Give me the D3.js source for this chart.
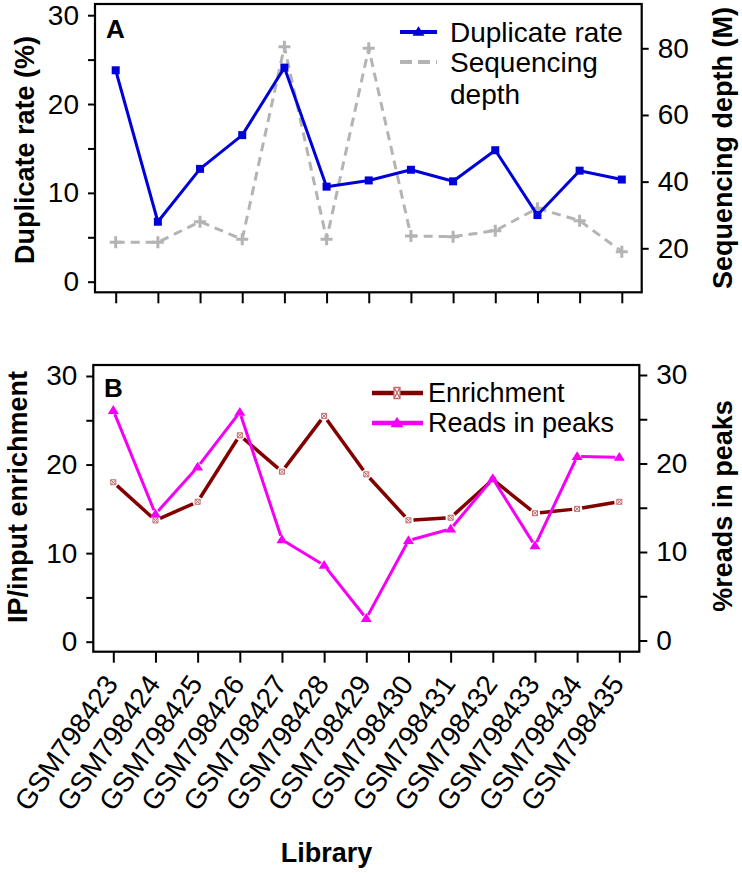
<!DOCTYPE html>
<html><head><meta charset="utf-8">
<script src="https://cdn.jsdelivr.net/npm/d3@7"></script>
<style>
html,body{margin:0;padding:0;background:#fff;}
svg{display:block;font-family:"Liberation Sans",Arial,sans-serif;}
</style></head>
<body>
<svg id="c" width="742" height="873"></svg>
<script>
// ---- data ----
const libraries = ["GSM798423","GSM798424","GSM798425","GSM798426","GSM798427","GSM798428","GSM798429","GSM798430","GSM798431","GSM798432","GSM798433","GSM798434","GSM798435"];
const duplicateRate = [23.8, 6.75, 12.7, 16.5, 24.1, 10.7, 11.4, 12.6, 11.3, 14.8, 7.5, 12.5, 11.5];
const sequencingDepth = [21.8, 21.8, 28.0, 22.7, 80.5, 22.7, 80.0, 23.7, 23.5, 25.3, 32.0, 28.3, 19.0];
const enrichment = [18.0, 13.7, 15.8, 23.3, 19.2, 25.5, 18.9, 13.7, 14.0, 18.3, 14.5, 15.0, 15.8];
const readsInPeaks = [26.0, 14.3, 19.6, 25.8, 11.4, 8.5, 2.5, 11.3, 12.6, 18.3, 10.7, 20.8, 20.7];
const leftTicksA = [0, 5, 10, 15, 20, 25, 30];
const leftLabelsA = [0, 10, 20, 30];
const rightTicksA = [20, 40, 60, 80];
const ticksB = [0, 5, 10, 15, 20, 25, 30];
const labelsB = [0, 10, 20, 30];

const svg = d3.select("#c");
const FS = 28;
const BLUE = "#0000d8", GRAY = "#b4b4b4", DRED = "#820000", MAG = "#f400f4", PINK = "#c06868";

// ---- Panel A ----
const boxA = {x0: 95, x1: 641.7, y0: 4, y1: 292.3};
const xA = d3.scalePoint().domain(libraries).range([115.7, 621.8]);
const yAL = d3.scaleLinear().domain([0, 30]).range([281.7, 15.2]);
const yAR = d3.scaleLinear().domain([20, 80]).range([248.3, 48.3]);

// ---- Panel B ----
const boxB = {x0: 93.3, x1: 639.3, y0: 365, y1: 651.7};
const xB = d3.scalePoint().domain(libraries).range([113.3, 619.3]);
const yBL = d3.scaleLinear().domain([0, 30]).range([641.7, 376]);
const yBR = d3.scaleLinear().domain([0, 30]).range([640.5, 375]);

function styleAxis(g, labelled) {
  g.select(".domain").remove();
  g.selectAll(".tick line").attr("stroke", "#000").attr("stroke-width", 2);
  g.selectAll(".tick text").attr("font-size", FS).attr("fill", "#000")
    .text(d => labelled.includes(d) ? d : "");
}

function box(b) {
  svg.append("rect").attr("x", b.x0).attr("y", b.y0).attr("width", b.x1 - b.x0).attr("height", b.y1 - b.y0)
    .attr("fill", "none").attr("stroke", "#000").attr("stroke-width", 2.2);
}

// axes A
svg.append("g").attr("transform", `translate(${boxA.x0},0)`)
  .call(d3.axisLeft(yAL).tickValues(leftTicksA).tickSize(7).tickPadding(9))
  .call(g => styleAxis(g, leftLabelsA));
svg.append("g").attr("transform", `translate(${boxA.x1},0)`)
  .call(d3.axisRight(yAR).tickValues(rightTicksA).tickSize(7).tickPadding(9))
  .call(g => styleAxis(g, rightTicksA));
svg.append("g").attr("transform", `translate(0,${boxA.y1})`)
  .call(d3.axisBottom(xA).tickSize(11).tickFormat(""))
  .call(g => { g.select(".domain").remove(); g.selectAll(".tick line").attr("stroke", "#000").attr("stroke-width", 2); });

// axes B
svg.append("g").attr("transform", `translate(${boxB.x0},0)`)
  .call(d3.axisLeft(yBL).tickValues(ticksB).tickSize(7).tickPadding(9))
  .call(g => styleAxis(g, labelsB));
svg.append("g").attr("transform", `translate(${boxB.x1},0)`)
  .call(d3.axisRight(yBR).tickValues(ticksB).tickSize(8).tickPadding(9))
  .call(g => styleAxis(g, labelsB));
svg.append("g").attr("transform", `translate(0,${boxB.y1})`)
  .call(d3.axisBottom(xB).tickSize(11).tickFormat(""))
  .call(g => { g.select(".domain").remove(); g.selectAll(".tick line").attr("stroke", "#000").attr("stroke-width", 2); });

// rotated category labels
svg.append("g").selectAll("text").data(libraries).join("text")
  .attr("transform", d => `translate(${xB(d) + 6},684) rotate(-55)`)
  .attr("text-anchor", "end").attr("font-size", FS).attr("fill", "#000")
  .text(d => d);

box(boxA);
box(boxB);

// ---- series helpers ----
function drawLine(xs, ys, vals, color, width, dash) {
  const pts = vals.map((v, i) => [xs(libraries[i]), ys(v)]);
  svg.append("path").attr("d", d3.line()(pts)).attr("fill", "none")
    .attr("stroke", color).attr("stroke-width", width)
    .attr("stroke-dasharray", dash || null).attr("stroke-linejoin", "round");
  return pts;
}
function drawGapLine(xs, ys, vals, color, width, gap) {
  const pts = vals.map((v, i) => [xs(libraries[i]), ys(v)]);
  const segs = [];
  for (let i = 0; i < pts.length - 1; i++) {
    const [ax, ay] = pts[i], [bx, by] = pts[i + 1];
    const L = Math.hypot(bx - ax, by - ay), ux = (bx - ax) / L, uy = (by - ay) / L;
    segs.push([[ax + ux * gap, ay + uy * gap], [bx - ux * gap, by - uy * gap]]);
  }
  svg.append("g").selectAll("path").data(segs).join("path")
    .attr("d", d => d3.line()(d)).attr("fill", "none")
    .attr("stroke", color).attr("stroke-width", width).attr("stroke-linecap", "butt");
  return pts;
}
function square(g, x, y, s, color) {
  g.append("rect").attr("x", x - s / 2).attr("y", y - s / 2).attr("width", s).attr("height", s).attr("fill", color);
}
function plus(g, x, y, s, color) {
  g.append("path").attr("d", `M${x - s / 2},${y}H${x + s / 2}M${x},${y - s / 2}V${y + s / 2}`)
    .attr("stroke", color).attr("stroke-width", 3).attr("fill", "none");
}
function tri(g, x, y, s, color) {
  const h = s * 0.8;
  g.append("path").attr("d", `M${x},${y - h * 0.6}L${x + s / 2},${y + h * 0.4}L${x - s / 2},${y + h * 0.4}Z`).attr("fill", color);
}
function boxX(g, x, y, w, h, color, sw) {
  g.append("path").attr("d", `M${x - w / 2},${y - h / 2}H${x + w / 2}V${y + h / 2}H${x - w / 2}Z M${x - w / 2},${y - h / 2}L${x + w / 2},${y + h / 2}M${x + w / 2},${y - h / 2}L${x - w / 2},${y + h / 2}`)
    .attr("fill", "#fff").attr("stroke", color).attr("stroke-width", sw);
}

// ---- Panel A series ----
const ptsDepth = drawLine(xA, yAR, sequencingDepth, GRAY, 3, "9,6");
const gD = svg.append("g");
ptsDepth.forEach(p => plus(gD, p[0], p[1], 12, GRAY));
const ptsDup = drawLine(xA, yAL, duplicateRate, BLUE, 3);
const gU = svg.append("g");
ptsDup.forEach(p => square(gU, p[0], p[1], 8, BLUE));

// ---- Panel B series ----
const ptsEnr = drawGapLine(xB, yBL, enrichment, DRED, 3.5, 5);
const gE = svg.append("g");
ptsEnr.forEach(p => boxX(gE, p[0], p[1], 5, 5, PINK, 1));
const ptsRip = drawGapLine(xB, yBR, readsInPeaks, MAG, 3, 4);
const gR = svg.append("g");
ptsRip.forEach(p => tri(gR, p[0], p[1], 11, MAG));

// ---- Panel labels ----
svg.append("text").attr("x", 106).attr("y", 38).attr("font-size", 26).attr("font-weight", "bold").text("A");
svg.append("text").attr("x", 104).attr("y", 397).attr("font-size", 26).attr("font-weight", "bold").text("B");

// ---- Legends ----
const lg = svg.append("g");
lg.append("line").attr("x1", 400).attr("x2", 437).attr("y1", 32).attr("y2", 32).attr("stroke", BLUE).attr("stroke-width", 4);
tri(lg, 418.5, 32, 12, BLUE);
lg.append("text").attr("x", 450).attr("y", 32).attr("dy", "0.35em").attr("font-size", FS).text("Duplicate rate");
lg.append("line").attr("x1", 400).attr("x2", 437).attr("y1", 62).attr("y2", 62).attr("stroke", GRAY).attr("stroke-width", 4).attr("stroke-dasharray", "12,6");
lg.append("text").attr("x", 450).attr("y", 62).attr("dy", "0.35em").attr("font-size", FS).text("Sequencing");
lg.append("text").attr("x", 450).attr("y", 94).attr("dy", "0.35em").attr("font-size", FS).text("depth");

lg.append("line").attr("x1", 372).attr("x2", 423).attr("y1", 393).attr("y2", 393).attr("stroke", DRED).attr("stroke-width", 4.5);
boxX(lg, 397, 393, 6, 11, PINK, 1.3);
lg.append("text").attr("x", 428).attr("y", 393).attr("dy", "0.35em").attr("font-size", 27).text("Enrichment");
lg.append("line").attr("x1", 372).attr("x2", 423).attr("y1", 423).attr("y2", 423).attr("stroke", MAG).attr("stroke-width", 4.5);
tri(lg, 397, 423, 13, MAG);
lg.append("text").attr("x", 428).attr("y", 423).attr("dy", "0.35em").attr("font-size", 27).text("Reads in peaks");

// ---- Axis titles ----
function vtitle(x, y, t) {
  svg.append("text").attr("transform", `translate(${x},${y}) rotate(-90)`).attr("text-anchor", "middle")
    .attr("font-size", 27).attr("font-weight", "bold").text(t);
}
vtitle(34, 150, "Duplicate rate (%)");
vtitle(732, 148, "Sequencing depth (M)");
vtitle(27, 497, "IP/input enrichment");
vtitle(732, 506, "%reads in peaks");
svg.append("text").attr("x", 326.5).attr("y", 862).attr("text-anchor", "middle")
  .attr("font-size", 27).attr("font-weight", "bold").text("Library");
</script>
</body></html>
